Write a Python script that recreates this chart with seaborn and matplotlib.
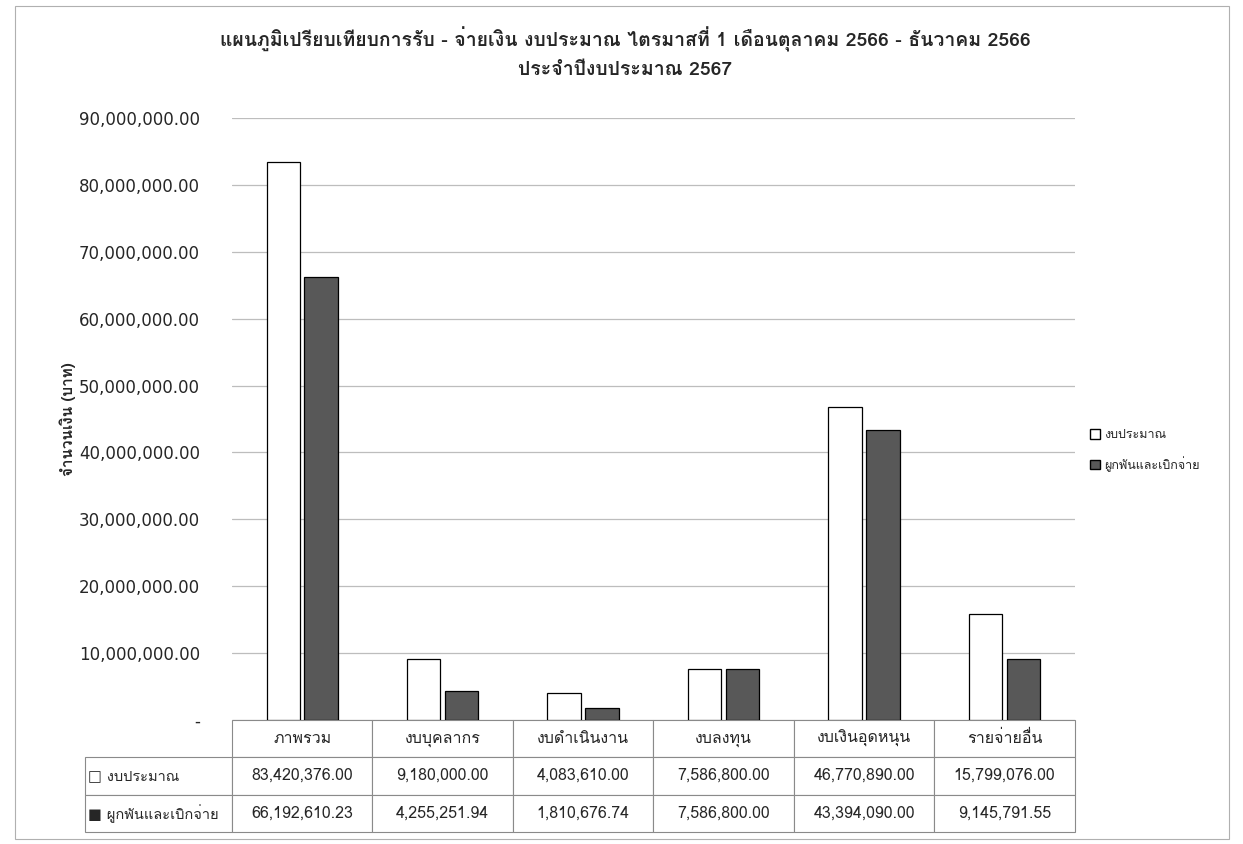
import pandas as pd
import numpy as np
import matplotlib
matplotlib.use('Agg')
import matplotlib.pyplot as plt
import seaborn as sns
from matplotlib import font_manager
from matplotlib.patches import Rectangle, Patch
from matplotlib.ticker import FuncFormatter, MultipleLocator

# data
categories = ['ภาพรวม', 'งบบุคลากร', 'งบดำเนินงาน', 'งบลงทุน', 'งบเงินอุดหนุน', 'รายจ่ายอื่น']
budget = [83420376.00, 9180000.00, 4083610.00, 7586800.00, 46770890.00, 15799076.00]
spent = [66192610.23, 4255251.94, 1810676.74, 7586800.00, 43394090.00, 9145791.55]
series_names = ['งบประมาณ', 'ผูกพันและเบิกจ่าย']

title_text = ('แผนภูมิเปรียบเทียบการรับ - จ่ายเงิน งบประมาณ ไตรมาสที่ 1 เดือนตุลาคม 2566 - ธันวาคม 2566\n'
              'ประจำปีงบประมาณ 2567')
ylabel_text = 'จำนวนเงิน (บาท)'


def find_thai_font():
    # look for any installed font that has Thai glyphs
    try:
        from fontTools.ttLib import TTFont
    except Exception:
        return 'DejaVu Sans'
    for f in font_manager.fontManager.ttflist:
        try:
            cmap = TTFont(f.fname, fontNumber=0, lazy=True).getBestCmap()
        except Exception:
            continue
        if cmap and 0x0E01 in cmap:
            return f.name
    return 'DejaVu Sans'


sns.set_theme(style='white')
thai = find_thai_font()
plt.rcParams['font.family'] = [thai, 'DejaVu Sans']
fam = [thai, 'DejaVu Sans']

df = pd.DataFrame({
    'category': categories * 2,
    'series': [series_names[0]] * len(categories) + [series_names[1]] * len(categories),
    'value': budget + spent,
})

fig = plt.figure(figsize=(12.43, 8.44), dpi=100)
ax = fig.add_axes([0.1866, 0.147, 0.678, 0.713])

sns.barplot(data=df, x='category', y='value', hue='series', order=categories,
            hue_order=series_names, palette=['white', '#585858'],
            edgecolor='black', linewidth=0.9, width=0.54, gap=0.12,
            legend=False, ax=ax)

ax.set_ylim(0, 90000000)
ax.yaxis.set_major_locator(MultipleLocator(10000000))
ax.yaxis.set_major_formatter(FuncFormatter(lambda v, p: '-' if v == 0 else f'{v:,.2f}'))
ax.tick_params(axis='y', labelsize=12, length=0, pad=23)
for t in ax.get_yticklabels():
    t.set_family('DejaVu Sans')
ax.set_xticks([])
ax.set_xlabel('')
ax.set_ylabel(ylabel_text, fontsize=11, family=fam, labelpad=2, fontweight='bold')
ax.grid(axis='y', color='#bdbdbd', linewidth=0.9)
ax.set_axisbelow(True)
for s in ['top', 'right', 'left', 'bottom']:
    ax.spines[s].set_visible(False)

# data table below the plot
cell_text = [[''] + categories,
             ['□ ' + series_names[0]] + [f'{v:,.2f}' for v in budget],
             ['■ ' + series_names[1]] + [f'{v:,.2f}' for v in spent]]
lab_w = 147 / 843
tab = ax.table(cellText=cell_text, cellLoc='center',
               colWidths=[lab_w] + [1 / 6] * 6,
               bbox=[-lab_w, -0.186, 1 + lab_w, 0.186])
tab.auto_set_font_size(False)
for (r, c), cell in tab.get_celld().items():
    cell.set_edgecolor('#8a8a8a')
    cell.set_linewidth(0.8)
    cell.get_text().set_fontsize(11.5)
    cell.get_text().set_family(fam)
    if c == 0 and r > 0:
        cell.get_text().set_fontsize(10.5)
        cell.get_text().set_ha('left')
        cell._loc = 'left'
        cell.PAD = 0.02
tab[0, 0].visible_edges = ''

fig.legend(handles=[Patch(facecolor='white', edgecolor='black', label=series_names[0]),
                    Patch(facecolor='#585858', edgecolor='black', label=series_names[1])],
           loc='upper left', bbox_to_anchor=(0.868, 0.505), frameon=False,
           fontsize=9, handlelength=0.8, handleheight=0.8, handletextpad=0.3,
           labelspacing=1.2)

fig.text(0.503, 0.968, title_text, ha='center', va='top', fontsize=14,
         fontweight='bold', family=fam, linespacing=1.6)

fig.patches.append(Rectangle((0.012, 0.006), 0.977, 0.987, transform=fig.transFigure,
                             fill=False, edgecolor='#b0b0b0', linewidth=0.8))

fig.savefig('out.png', dpi=100)
